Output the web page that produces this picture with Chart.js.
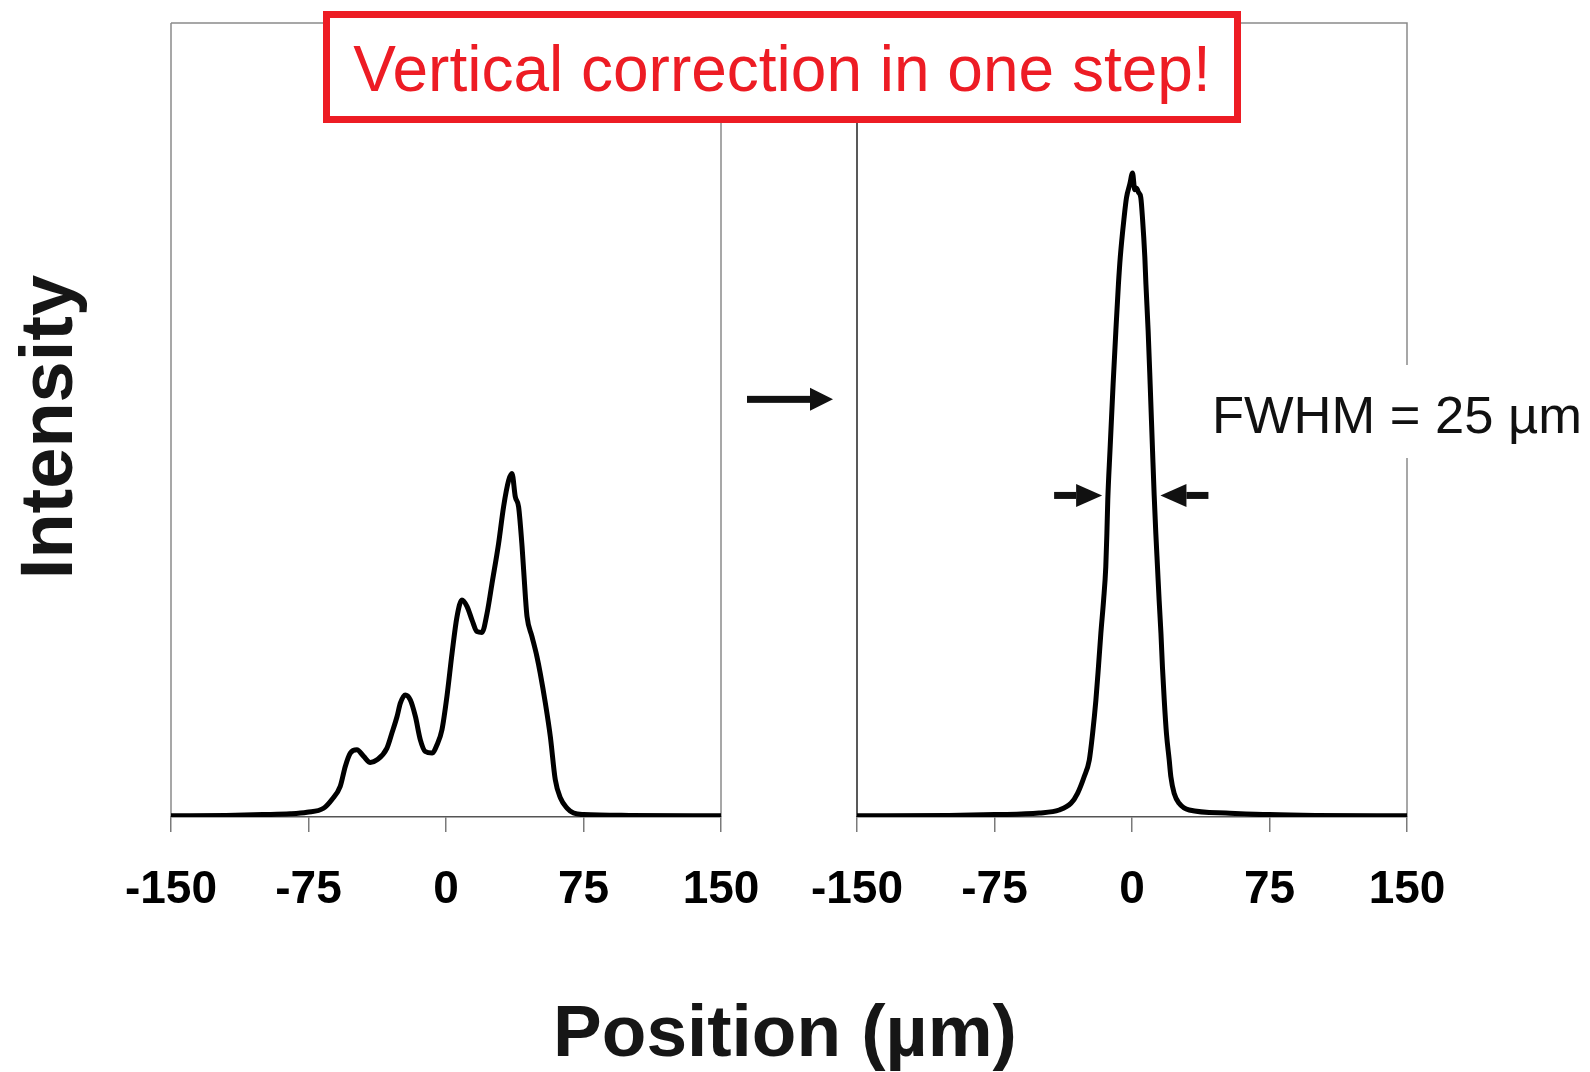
<!DOCTYPE html>
<html>
<head>
<meta charset="utf-8">
<script src="https://cdn.jsdelivr.net/npm/chart.js@4.4.1/dist/chart.umd.min.js"></script>
<style>
  html, body { margin:0; padding:0; background:#fff; }
  body { width:1590px; height:1072px; position:relative; overflow:hidden; font-family:"Liberation Sans", Arial, sans-serif; }
  canvas { position:absolute; left:0; top:0; }
  .txt { position:absolute; white-space:nowrap; }
</style>
</head>
<body>
<canvas id="c1" width="1590" height="1072"></canvas>
<canvas id="c2" width="1590" height="1072"></canvas>

<div class="txt" style="left:323px; top:11px; width:918px; height:112px; box-sizing:border-box; border:7px solid #ED1C24; background:#fff;"></div>
<div class="txt" id="title" style="left:323px; top:37px; width:918px; text-align:center; font-size:64px; line-height:64px; color:#ED1C24;">Vertical correction in one step!</div>

<div class="txt" style="left:1200px; top:365px; width:390px; height:93px; background:#fff;"></div>
<div class="txt" id="fwhm" style="left:1212px; top:388.6px; font-size:52.5px; line-height:52.5px; color:#111;">FWHM = 25 µm</div>

<div class="txt" id="ylab" style="left:-152.6px; top:390px; width:400px; height:74px; text-align:center; font-size:74px; line-height:74px; font-weight:bold; color:#161616; transform:rotate(-90deg); transform-origin:50% 50%;">Intensity</div>
<div class="txt" id="xlab" style="left:385px; top:994px; width:800px; text-align:center; font-size:73px; line-height:73px; font-weight:bold; color:#161616;">Position (µm)</div>

<script>
// ---- data ----
const xTicks = [-150, -75, 0, 75, 150];
const xTickLabels = ['-150', '-75', '0', '75', '150'];

const beforeX = [-150, -120, -100, -85, -75.8, -66.8, -62.2, -57.7, -54.9, -52.2, -48.6, -44.9, -41.3, -37.6, -32.2, -29.5, -26.7, -24.9, -22.2, -19.5, -16.7, -14.0, -11.3, -7.6, -4.9, -2.2, 0.5, 3.3, 6.0, 8.7, 11.5, 14.2, 16.9, 19.6, 22.4, 25.1, 28.7, 31.4, 34.2, 36.0, 37.8, 39.6, 41.5, 43.3, 44.2, 46.9, 49.6, 51.4, 54.2, 56.9, 59.6, 62.4, 66.0, 69.6, 75.1, 100, 150];
const beforeY = [0.0015, 0.002, 0.003, 0.004, 0.006, 0.011, 0.022, 0.0385, 0.064, 0.0805, 0.0847, 0.0763, 0.0687, 0.072, 0.0868, 0.1057, 0.1266, 0.1434, 0.1538, 0.1476, 0.1266, 0.0972, 0.0825, 0.0805, 0.091, 0.11, 0.1517, 0.2063, 0.2523, 0.2733, 0.265, 0.248, 0.2335, 0.2325, 0.2566, 0.2943, 0.3447, 0.3907, 0.4243, 0.4327, 0.4033, 0.3907, 0.3404, 0.2775, 0.2523, 0.2272, 0.202, 0.1811, 0.1434, 0.1014, 0.047, 0.024, 0.0113, 0.005, 0.003, 0.002, 0.0015];

const afterX = [-150, -100, -75, -50.6, -39.7, -33.3, -29.7, -26.1, -23.3, -21.5, -19.7, -18.3, -17.0, -15.5, -14.3, -13.7, -13.2, -12.0, -10.3, -8.8, -7.4, -6.4, -4.3, -3.0, -1.2, 0.3, 1.5, 2.5, 3.5, 4.8, 5.7, 7.0, 7.6, 8.8, 9.9, 11.2, 12.1, 13.0, 13.9, 14.8, 15.8, 16.6, 17.6, 18.8, 20.3, 21.2, 23.0, 25.7, 31.2, 51.2, 75, 100, 150];
const afterY = [0.0015, 0.002, 0.003, 0.005, 0.0088, 0.0172, 0.0298, 0.0507, 0.0717, 0.105, 0.147, 0.189, 0.231, 0.273, 0.315, 0.357, 0.40, 0.4616, 0.5455, 0.6126, 0.671, 0.705, 0.755, 0.780, 0.797, 0.811, 0.790, 0.792, 0.787, 0.780, 0.755, 0.705, 0.671, 0.6126, 0.5455, 0.4616, 0.405, 0.357, 0.315, 0.273, 0.231, 0.189, 0.147, 0.105, 0.0717, 0.0507, 0.0298, 0.0172, 0.0088, 0.005, 0.003, 0.002, 0.0015];

const halfMax = 0.405;          // FWHM marker level
const fwhmLeft = -16.3;         // arrow tips
const fwhmRight = 15.5;
const stepArrowY = 0.526;

// ---- helpers ----
function toPts(xs, ys) { return xs.map((x, i) => ({ x: x, y: ys[i] })); }

function drawArrow(ctx, tailX, tipX, y, shaft, headLen, headHalf) {
  const dir = tipX > tailX ? 1 : -1;
  const baseX = tipX - dir * headLen;
  ctx.save();
  ctx.fillStyle = '#111';
  ctx.fillRect(Math.min(tailX, baseX), y - shaft / 2, Math.abs(baseX - tailX), shaft);
  ctx.beginPath();
  ctx.moveTo(tipX, y);
  ctx.lineTo(baseX, y - headHalf);
  ctx.lineTo(baseX, y + headHalf);
  ctx.closePath();
  ctx.fill();
  ctx.restore();
}

function framePlugin(leftColor) {
  return {
    id: 'frame',
    beforeDatasetsDraw(chart) {
      const a = chart.chartArea, ctx = chart.ctx;
      ctx.save();
      ctx.lineWidth = 1.5;
      ctx.strokeStyle = '#8a8a8a';
      ctx.beginPath();
      ctx.moveTo(a.left, a.top); ctx.lineTo(a.right, a.top); ctx.lineTo(a.right, a.bottom);
      ctx.stroke();
      ctx.strokeStyle = leftColor;
      ctx.beginPath();
      ctx.moveTo(a.left, a.top); ctx.lineTo(a.left, a.bottom);
      ctx.stroke();
      ctx.restore();
    }
  };
}

function makeOptions(padLeft, padRight) {
  return {
    responsive: false,
    animation: false,
    events: [],
    layout: { padding: { left: padLeft, right: padRight, top: 23, bottom: 155 } },
    plugins: { legend: { display: false }, tooltip: { enabled: false } },
    scales: {
      x: {
        type: 'linear', min: -150, max: 150,
        afterBuildTicks: s => { s.ticks = xTicks.map(v => ({ value: v })); },
        afterFit: s => { s.height = 100; },
        ticks: {
          autoSkip: false, maxRotation: 0, padding: 31, color: '#000',
          font: { family: '"Liberation Sans", Arial, sans-serif', weight: 'bold', size: 46 },
          callback: (v) => xTickLabels[xTicks.indexOf(v)]
        },
        grid: { drawOnChartArea: false, drawTicks: true, tickLength: 15, color: '#7a7a7a', lineWidth: 1.5 },
        border: { display: true, color: '#555', width: 1.5 }
      },
      y: { display: false, min: 0, max: 1 }
    }
  };
}

function dataset(xs, ys) {
  return {
    data: toPts(xs, ys), showLine: true, borderColor: '#000', borderWidth: 5,
    pointRadius: 0, cubicInterpolationMode: 'monotone', fill: false
  };
}

new Chart(document.getElementById('c1'), {
  type: 'scatter',
  data: { datasets: [dataset(beforeX, beforeY)] },
  options: makeOptions(171, 1590 - 721),
  plugins: [framePlugin('#8a8a8a'), {
    id: 'stepArrow',
    afterDraw(chart) {
      const a = chart.chartArea;
      const y = chart.scales.y.getPixelForValue(stepArrowY);
      drawArrow(chart.ctx, a.right + 26, a.right + 112, y, 7, 23, 11.5);
    }
  }]
});

new Chart(document.getElementById('c2'), {
  type: 'scatter',
  data: { datasets: [dataset(afterX, afterY)] },
  options: makeOptions(857, 1590 - 1407),
  plugins: [framePlugin('#222'), {
    id: 'fwhmArrows',
    afterDraw(chart) {
      const y = chart.scales.y.getPixelForValue(halfMax);
      const l = chart.scales.x.getPixelForValue(fwhmLeft);
      const r = chart.scales.x.getPixelForValue(fwhmRight);
      drawArrow(chart.ctx, l - 48, l, y, 7, 26, 11.5);
      drawArrow(chart.ctx, r + 48, r, y, 7, 26, 11.5);
    }
  }]
});
</script>
</body>
</html>
